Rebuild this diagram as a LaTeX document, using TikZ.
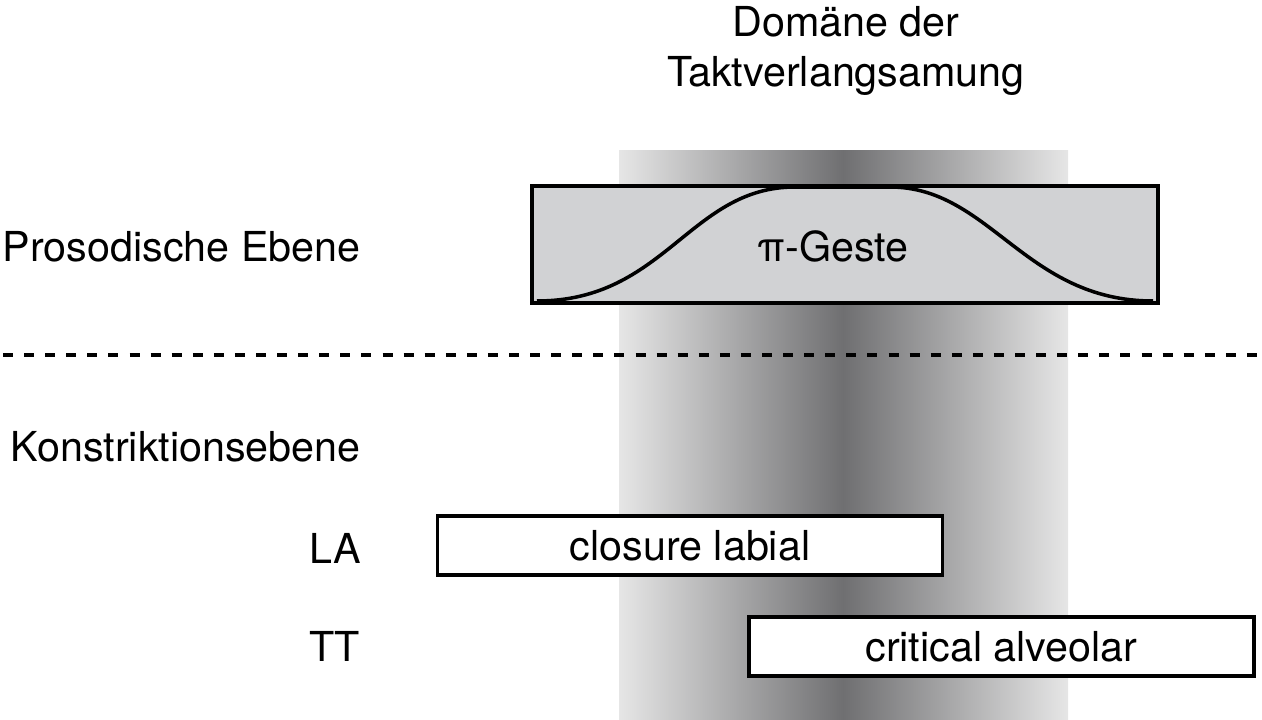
\documentclass[tikz,border=0pt]{standalone}
\usepackage{fontspec}
\setmainfont{TeX Gyre Heros}
\usepackage{xcolor}
\usepackage{tikz}
\usetikzlibrary{positioning}
\definecolor{shadeedge}{HTML}{E6E6E6}
\definecolor{shadecore}{HTML}{6F6F71}
\definecolor{prosgray}{HTML}{D1D2D4}
\tikzset{
  lbl/.style={anchor=base east,inner sep=0pt,font=\fontsize{23.5}{28}\selectfont},
  prosbox/.style={draw=black,line width=2pt,fill=prosgray,inner sep=0pt,
    minimum width=12.52cm,minimum height=2.34cm},
  gestbox/.style={draw=black,line width=2pt,fill=white,inner sep=0pt,
    minimum width=10.1cm,minimum height=1.18cm,font=\fontsize{23.5}{28}\selectfont},
  gestcurve/.style={line width=2pt,draw=black},
  levelline/.style={line width=2pt,dash pattern=on 5.7pt off 6.3pt}
}

\begin{document}
\begin{tikzpicture}[x=0.02cm,y=-0.02cm]
\useasboundingbox (0,0) rectangle (1262,720);

% Domaene der Taktverlangsamung
\shade[left color=shadeedge,right color=shadecore] (619,150) rectangle (843.5,720);
\shade[left color=shadecore,right color=shadeedge] (843,150) rectangle (1068,720);
\node[align=center,anchor=north,inner sep=0pt,font=\fontsize{23.5}{50\dimexpr 0.569pt\relax}\selectfont] (domain) at (846,6) {Domäne der\\Taktverlangsamung};

% prosodische Ebene
\node[prosbox] (pibox) at (845,244.5) {};
\draw[gestcurve] (537,301) .. controls (665,301) and (690,187) .. (795,187)
  -- (890,187) .. controls (990,187) and (1025,301) .. (1153,301);
\node[lbl,anchor=base] (pi) at (833,261) {π-Geste};
\node[lbl] (prosodic) at (361,261) {Prosodische Ebene};

\draw[levelline] (3,355) -- (1262,355);

% Konstriktionsebene
\node[lbl] (constr) at (361,461) {Konstriktionsebene};
\node[lbl] (la) at (361,563) {LA};
\node[lbl] (tt) at (360,661) {TT};
\node[gestbox] (closure) at (690,545.5) {closure labial};
\node[gestbox] (critical) at (1001.5,646.5) {critical alveolar};
\end{tikzpicture}
\end{document}
